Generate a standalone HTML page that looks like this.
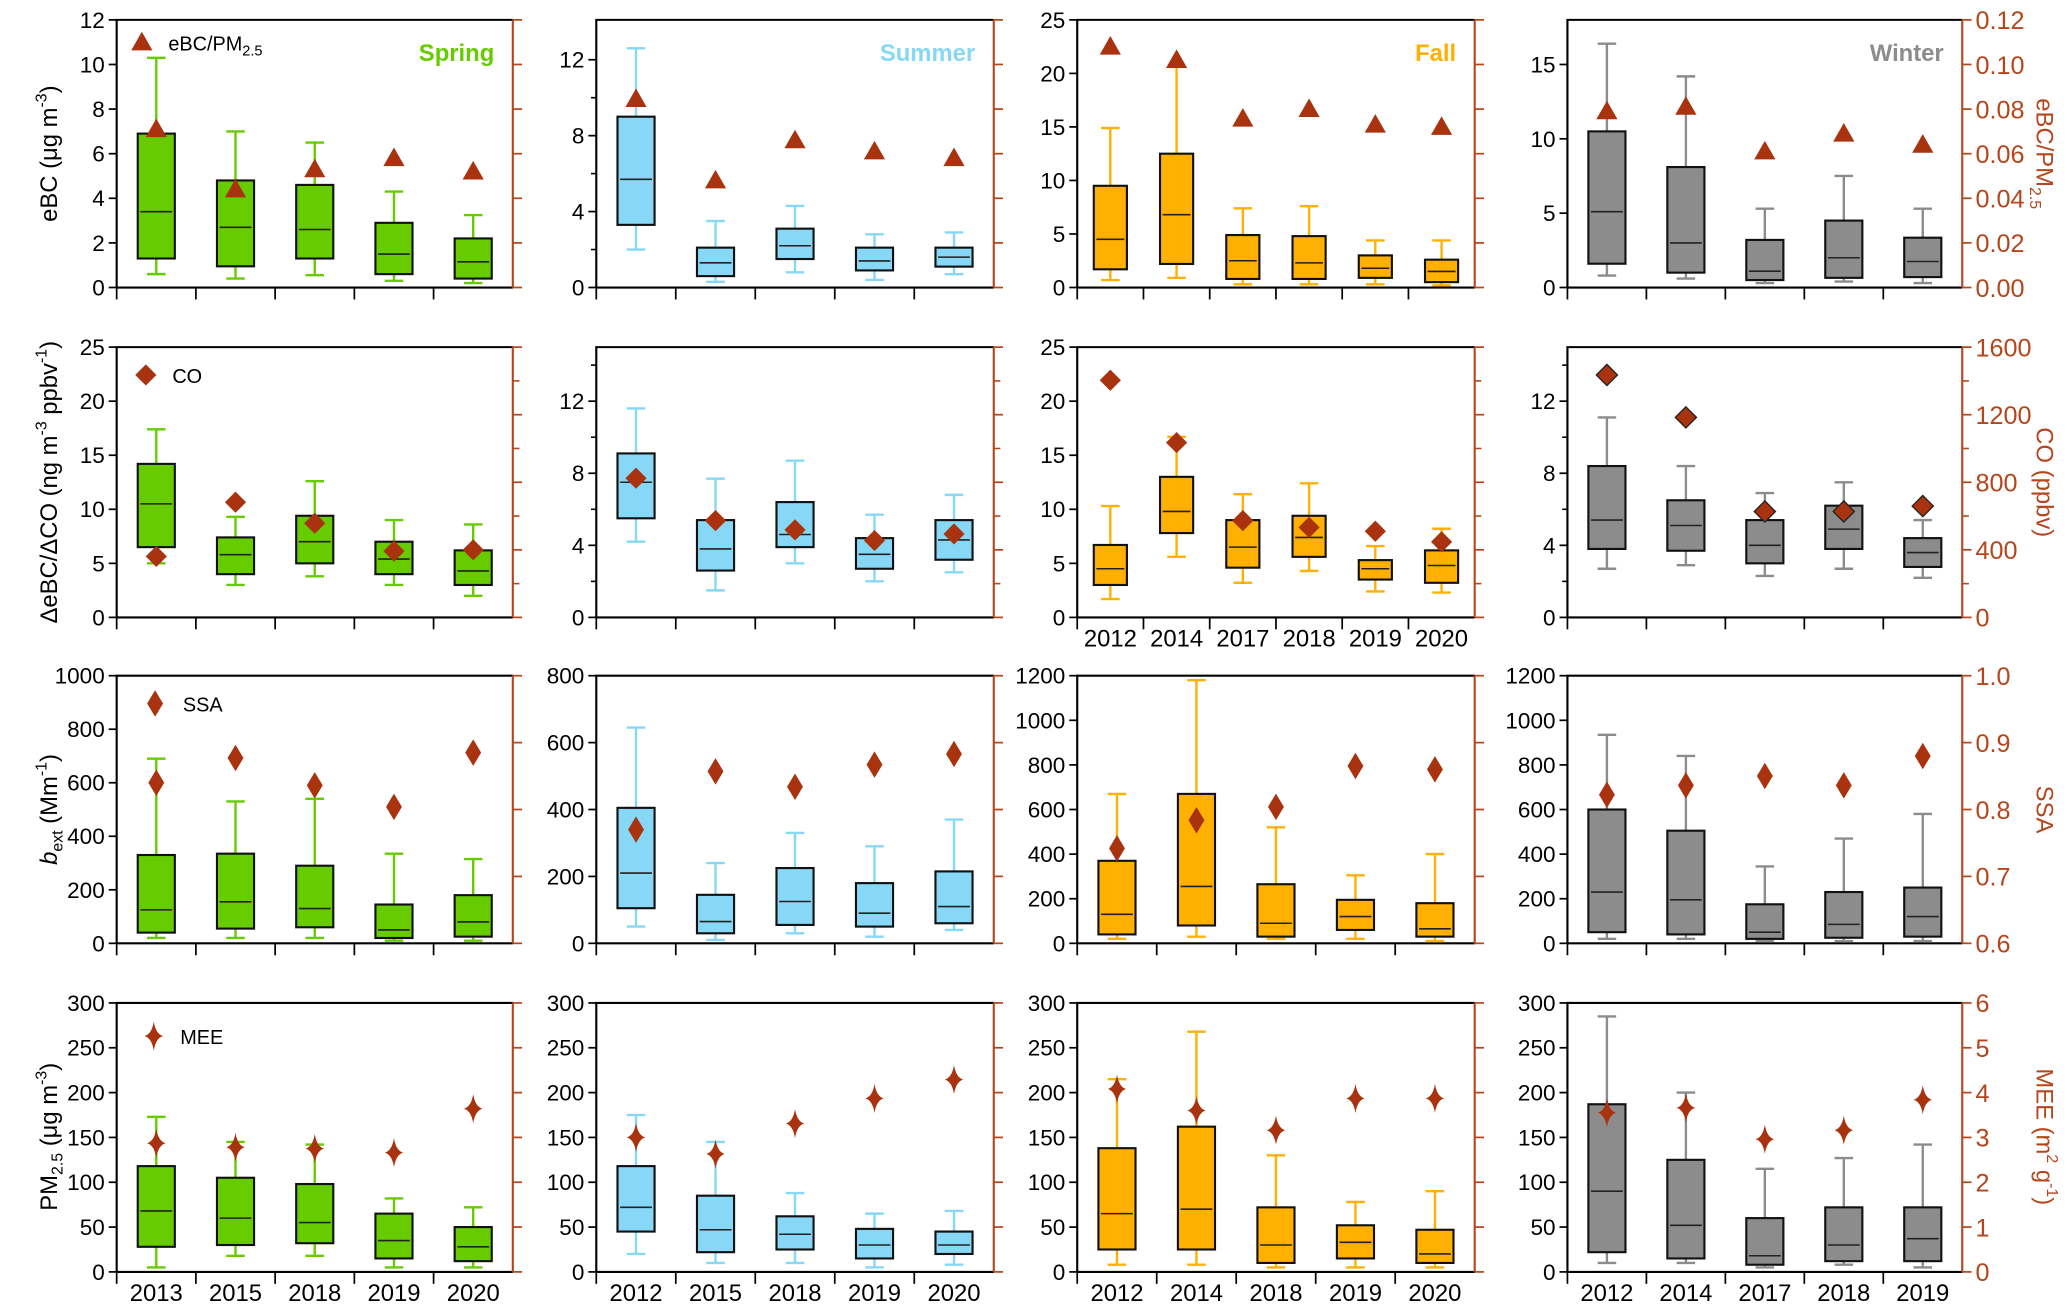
<!DOCTYPE html>
<html><head><meta charset="utf-8">
<style>
html,body{margin:0;padding:0;background:#fff;}
svg{display:block;font-family:"Liberation Sans",Arial,sans-serif;}
</style></head>
<body>
<svg id="fig" width="2067" height="1309" viewBox="0 0 1560 988" xmlns="http://www.w3.org/2000/svg"></svg>
<script>
// ---- categories ----
const springYears = ["2013","2015","2018","2019","2020"];
const summerYears = ["2012","2015","2018","2019","2020"];
const fallYearsCO = ["2012","2014","2017","2018","2019","2020"];
const fallYears = ["2012","2014","2018","2019","2020"];
const winterYears = ["2012","2014","2017","2018","2019"];
// ---- row 1: eBC [low, q1, median, q3, high]; eBC/PM2.5 ----
const springEbc = [[0.6,1.3,3.4,6.9,10.3],[0.4,0.95,2.7,4.8,7.0],[0.55,1.3,2.6,4.6,6.5],[0.3,0.6,1.5,2.9,4.3],[0.2,0.4,1.15,2.2,3.25]];
const springRatio = [0.071,0.044,0.053,0.058,0.052];
const summerEbc = [[2.0,3.3,5.7,9.0,12.6],[0.3,0.6,1.3,2.1,3.5],[0.8,1.5,2.2,3.1,4.3],[0.4,0.9,1.4,2.1,2.8],[0.7,1.1,1.6,2.1,2.9]];
const summerRatio = [0.0845,0.048,0.066,0.061,0.058];
const fallEbc = [[0.7,1.7,4.5,9.5,14.9],[0.9,2.2,6.8,12.5,20.6],[0.3,0.8,2.5,4.9,7.4],[0.3,0.8,2.3,4.8,7.6],[0.3,0.9,1.8,3.0,4.4],[0.2,0.5,1.5,2.6,4.4]];
const fallRatio = [0.108,0.102,0.0757,0.08,0.073,0.072];
const winterEbc = [[0.8,1.6,5.1,10.5,16.4],[0.6,1.0,3.0,8.1,14.2],[0.3,0.5,1.1,3.2,5.3],[0.4,0.65,2.0,4.5,7.5],[0.3,0.7,1.75,3.35,5.3]];
const winterRatio = [0.079,0.081,0.061,0.069,0.064];
// ---- row 2: dEBC/dCO; CO ----
const springDco = [[5,6.5,10.5,14.2,17.4],[3,4,5.8,7.4,9.3],[3.8,5,7,9.4,12.6],[3,4,5.4,7,9],[2,3,4.3,6.2,8.6]];
const springCO = [361,682,557,392,400];
const summerDco = [[4.2,5.5,7.5,9.1,11.6],[1.5,2.6,3.8,5.4,7.7],[3,3.9,4.6,6.4,8.7],[2,2.7,3.5,4.4,5.7],[2.5,3.2,4.3,5.4,6.8]];
const summerCO = [824,573,518,455,494];
const fallDco = [[1.7,3,4.5,6.7,10.3],[5.6,7.8,9.8,13,16.7],[3.2,4.6,6.5,9,11.4],[4.3,5.6,7.4,9.4,12.4],[2.4,3.5,4.5,5.3,6.6],[2.3,3.2,4.8,6.2,8.2]];
const fallCO = [1404,1035,573,533,510,447];
const winterDco = [[2.7,3.8,5.4,8.4,11.1],[2.9,3.7,5.1,6.5,8.4],[2.3,3,4,5.4,6.9],[2.7,3.8,4.9,6.2,7.5],[2.2,2.8,3.6,4.4,5.4]];
const winterCO = [1435,1184,627,627,659];
// ---- row 3: b_ext; SSA ----
const springBext = [[20,40,125,330,690],[20,55,155,335,530],[20,60,130,290,540],[10,20,50,145,335],[10,25,80,180,315]];
const springSSA = [0.84,0.877,0.836,0.804,0.885];
const summerBext = [[50,105,210,405,645],[10,30,65,145,240],[30,55,125,225,330],[20,50,90,180,290],[40,60,110,215,370]];
const summerSSA = [0.77,0.857,0.834,0.867,0.883];
const fallBext = [[20,40,130,370,670],[30,80,255,670,1180],[20,30,90,265,520],[20,60,120,195,305],[10,30,65,180,400]];
const fallSSA = [0.742,0.784,0.804,0.865,0.86];
const winterBext = [[20,50,230,600,935],[20,40,195,505,840],[10,20,50,175,345],[10,25,85,230,470],[10,30,120,250,580]];
const winterSSA = [0.822,0.836,0.85,0.836,0.88];
// ---- row 4: PM2.5; MEE ----
const springPm = [[5,28,68,118,173],[18,30,60,105,145],[18,32,55,98,142],[5,15,35,65,82],[5,12,28,50,72]];
const springMEE = [2.87,2.78,2.75,2.66,3.64];
const summerPm = [[20,45,72,118,175],[10,22,47,85,145],[10,25,42,62,88],[5,15,30,48,65],[8,20,30,45,68]];
const summerMEE = [3.0,2.63,3.31,3.87,4.29];
const fallPm = [[8,25,65,138,215],[8,25,70,162,268],[5,10,30,72,130],[5,15,33,52,78],[5,10,20,47,90]];
const fallMEE = [4.08,3.6,3.16,3.87,3.87];
const winterPm = [[10,22,90,187,285],[10,15,52,125,200],[5,8,18,60,115],[8,12,30,72,127],[5,12,37,72,142]];
const winterMEE = [3.55,3.66,2.96,3.16,3.84];
// ---- axis ticks ----
const ticksEbcSpring = [0,2,4,6,8,10,12];
const ticksEbcSummer = [0,4,8,12];
const ticks25 = [0,5,10,15,20,25];
const ticksEbcWinter = [0,5,10,15];
const ticksDcoSmall = [0,4,8,12];
const ticksBext1000 = [0,200,400,600,800,1000];
const ticksBext800 = [0,200,400,600,800];
const ticksBext1200 = [0,200,400,600,800,1000,1200];
const ticksPm = [0,50,100,150,200,250,300];
const ticksRatio = ["0.00","0.02","0.04","0.06","0.08","0.10","0.12"];
const ticksCO = [0,400,800,1200,1600];
const ticksSSA = ["0.6","0.7","0.8","0.9","1.0"];
const ticksMEE = [0,1,2,3,4,5,6];

const NS = "http://www.w3.org/2000/svg";
const svg = document.getElementById('fig');
const RED = "#a9330f", AX = "#b5461c";
const colL = [88,450,813,1183], colR = [387,750,1113,1481];
const rowT = [15,262,510,757], rowB = [217,466,712,960];
const colors = ["#66cc00","#87d7f7","#ffb000","#8c8c8c"];

function mk(tag, attrs, parent){
  const e = document.createElementNS(NS, tag);
  for (const k in attrs) e.setAttribute(k, attrs[k]);
  (parent||svg).appendChild(e);
  return e;
}
function txt(x,y,s,size,fill,anchor,parent){
  const t = mk('text',{x:x,y:y,'font-size':size,fill:fill||'#000','text-anchor':anchor||'middle'},parent);
  t.textContent = s;
  return t;
}

const rightSpecs = [
  {min:0,max:0.12,ticks:ticksRatio.map(Number),labels:ticksRatio,minor:[]},
  {min:0,max:1600,ticks:ticksCO,labels:ticksCO.map(String),minor:[200,600,1000,1400]},
  {min:0.6,max:1.0,ticks:ticksSSA.map(Number),labels:ticksSSA,minor:[]},
  {min:0,max:6,ticks:ticksMEE,labels:ticksMEE.map(String),minor:[]}
];
const leftSpecs = [
  [{max:12,ticks:ticksEbcSpring,minor:[]},{max:14.1,ticks:ticksEbcSummer,minor:[2,6,10]},{max:25,ticks:ticks25,minor:[]},{max:18,ticks:ticksEbcWinter,minor:[]}],
  [{max:25,ticks:ticks25,minor:[]},{max:15,ticks:ticksDcoSmall,minor:[2,6,10,14]},{max:25,ticks:ticks25,minor:[]},{max:15,ticks:ticksDcoSmall,minor:[2,6,10,14]}],
  [{max:1000,ticks:ticksBext1000,minor:[]},{max:800,ticks:ticksBext800,minor:[]},{max:1200,ticks:ticksBext1200,minor:[]},{max:1200,ticks:ticksBext1200,minor:[]}],
  [{max:300,ticks:ticksPm,minor:[]},{max:300,ticks:ticksPm,minor:[]},{max:300,ticks:ticksPm,minor:[]},{max:300,ticks:ticksPm,minor:[]}]
];
const boxData = [
  [springEbc,summerEbc,fallEbc,winterEbc],
  [springDco,summerDco,fallDco,winterDco],
  [springBext,summerBext,fallBext,winterBext],
  [springPm,summerPm,fallPm,winterPm]
];
const markData = [
  [springRatio,summerRatio,fallRatio,winterRatio],
  [springCO,summerCO,fallCO,winterCO],
  [springSSA,summerSSA,fallSSA,winterSSA],
  [springMEE,summerMEE,fallMEE,winterMEE]
];
const catData = [
  [springYears,summerYears,fallYearsCO,winterYears],
  [springYears,summerYears,fallYearsCO,winterYears],
  [springYears,summerYears,fallYears,winterYears],
  [springYears,summerYears,fallYears,winterYears]
];
const rowNames = ["ebc","debc-dco","bext","pm25"];
const seasonNames = ["spring","summer","fall","winter"];

function marker(kind,x,y,g,withStroke){
  let m;
  if (kind===0) m = mk('polygon',{points:`${x},${y-8} ${x-8},${y+6} ${x+8},${y+6}`,fill:RED},g);
  else if (kind===1) m = mk('polygon',{points:`${x},${y-8} ${x+8},${y} ${x},${y+8} ${x-8},${y}`,fill:RED,stroke:withStroke?'#222':'none','stroke-width':1},g);
  else if (kind===2) m = mk('polygon',{points:`${x},${y-10} ${x+6},${y} ${x},${y+10} ${x-6},${y}`,fill:RED},g);
  else m = mk('path',{d:`M${x},${y-11} Q${x+1.5},${y-1.5} ${x+7},${y} Q${x+1.5},${y+1.5} ${x},${y+11} Q${x-1.5},${y+1.5} ${x-7},${y} Q${x-1.5},${y-1.5} ${x},${y-11}Z`,fill:RED},g);
  return m;
}

for (let r=0;r<4;r++){
  for (let c=0;c<4;c++){
    const L=colL[c],R=colR[c],T=rowT[r],B=rowB[r];
    const g = mk('g',{});
    
    
    const ls = leftSpecs[r][c], rs = rightSpecs[r];
    const yL = v => B - v/ls.max*(B-T);
    const yR = v => B - (v-rs.min)/(rs.max-rs.min)*(B-T);
    const cats = catData[r][c];
    const n = cats.length, cw = (R-L)/n;
    const xC = i => L + cw*(i+0.5);
    // frame
    const fr = mk('path',{d:`M${L},${B} L${L},${T} L${R},${T}`,stroke:'#000','stroke-width':1.6,fill:'none'},g);
     
    const xa = mk('line',{x1:L,y1:B,x2:R,y2:B,stroke:'#000','stroke-width':1.6},g);
     
    const ra = mk('line',{x1:R,y1:T,x2:R,y2:B,stroke:AX,'stroke-width':1.6},g);
     
    // left ticks
    ls.ticks.forEach(v=>{
      const y=yL(v);
      mk('line',{x1:L-6,y1:y,x2:L,y2:y,stroke:'#000','stroke-width':1.3},g);
      const t = txt(L-9,y+6,String(v),17,'#000','end',g);
       
    });
    ls.minor.forEach(v=>{ if(v<=ls.max){const y=yL(v); mk('line',{x1:L-4,y1:y,x2:L,y2:y,stroke:'#000','stroke-width':1.2},g);} });
    // right ticks
    rs.ticks.forEach((v,i)=>{
      const y=yR(v);
      mk('line',{x1:R,y1:y,x2:R+7,y2:y,stroke:AX,'stroke-width':1.3},g);
      if (c===3){
        const t = txt(R+10,y+7,rs.labels[i],19,AX,'start',g);
         
      }
    });
    rs.minor.forEach(v=>{const y=yR(v); mk('line',{x1:R,y1:y,x2:R+5,y2:y,stroke:AX,'stroke-width':1.2},g);});
    // x category ticks
    for (let i=0;i<n;i++){
      const x=L+cw*i;
      mk('line',{x1:x,y1:B,x2:x,y2:B+9,stroke:'#000','stroke-width':1.3},g);
      if (r===3 || (r===1 && c===2)){
        const t = txt(xC(i),B+22,cats[i],18,'#000','middle',g);
         
      }
    }
    // boxes
    const bw = Math.min(28, cw*0.5);
    boxData[r][c].forEach((s,i)=>{
      const x=xC(i);
      const bg = mk('g',{},g);
      
      
      mk('line',{x1:x,y1:yL(s[0]),x2:x,y2:yL(s[1]),stroke:colors[c],'stroke-width':1.8},bg);
      mk('line',{x1:x,y1:yL(s[3]),x2:x,y2:yL(s[4]),stroke:colors[c],'stroke-width':1.8},bg);
      mk('line',{x1:x-7,y1:yL(s[0]),x2:x+7,y2:yL(s[0]),stroke:colors[c],'stroke-width':1.8},bg);
      mk('line',{x1:x-7,y1:yL(s[4]),x2:x+7,y2:yL(s[4]),stroke:colors[c],'stroke-width':1.8},bg);
      mk('rect',{x:x-bw/2,y:yL(s[3]),width:bw,height:yL(s[1])-yL(s[3]),fill:colors[c],stroke:'#111','stroke-width':1.6},bg);
      mk('line',{x1:x-bw/2+2,y1:yL(s[2]),x2:x+bw/2-2,y2:yL(s[2]),stroke:'#222','stroke-width':1.2},bg);
    });
    // markers
    markData[r][c].forEach((v,i)=>{
      const m = marker(r,xC(i),yR(v),g,r===1&&c===3);
      
      
    });
  }
}

// season labels
const seasonLbl = ["Spring","Summer","Fall","Winter"];
for (let c=0;c<4;c++){
  const t = txt(colR[c]-14,46,seasonLbl[c],18,colors[c],'end');
  t.setAttribute('font-weight','bold');
  
  
}
// legends
const legTxt = [["eBC/PM",[127,38]],["CO",[130,289]],["SSA",[138,537]],["MEE",[136,788]]];
const legPos = [[107,32],[110,283],[117,531],[116,782]];
for (let r=0;r<4;r++){
  const lg = mk('g',{});
  
  
  marker(r,legPos[r][0],legPos[r][1],lg,false);
  const t = txt(legTxt[r][1][0],legTxt[r][1][1],legTxt[r][0],15,'#000','start',lg);
  if (r===0){ const s=mk('tspan',{'font-size':11,dy:4},t); s.textContent='2.5'; }
}
// left axis titles
function vtitle(x,y,name,color,build,rot){
  const t = mk('text',{transform:`translate(${x},${y}) rotate(${rot})`,'font-size':18,fill:color,'text-anchor':'middle'});
  
  
  build(t);
}
function part(t,s,opt){const e=mk('tspan',opt||{},t); e.textContent=s; return e;}
vtitle(43,116,'y-axis-title-ebc','#000',t=>{part(t,'eBC (μg m');part(t,'-3',{'font-size':12,dy:-8});part(t,')',{dy:8});},-90);
vtitle(43,364,'y-axis-title-debc-dco','#000',t=>{part(t,'ΔeBC/ΔCO (ng m');part(t,'-3',{'font-size':12,dy:-8});part(t,' ppbv',{dy:8});part(t,'-1',{'font-size':12,dy:-8});part(t,')',{dy:8});},-90);
vtitle(43,611,'y-axis-title-bext','#000',t=>{part(t,'b',{'font-style':'italic'});part(t,'ext',{'font-size':12,dy:4});part(t,' (Mm',{dy:-4});part(t,'-1',{'font-size':12,dy:-8});part(t,')',{dy:8});},-90);
vtitle(43,858,'y-axis-title-pm25','#000',t=>{part(t,'PM');part(t,'2.5',{'font-size':12,dy:4});part(t,' (μg m',{dy:-4});part(t,'-3',{'font-size':12,dy:-8});part(t,')',{dy:8});},-90);
// right axis titles
vtitle(1537,116,'right-axis-title-ebc-pm25',AX,t=>{part(t,'eBC/PM');part(t,'2.5',{'font-size':12,dy:5});},90);
vtitle(1537,364,'right-axis-title-co',AX,t=>{part(t,'CO (ppbv)');},90);
vtitle(1537,611,'right-axis-title-ssa',AX,t=>{part(t,'SSA');},90);
vtitle(1537,858,'right-axis-title-mee',AX,t=>{part(t,'MEE (m');part(t,'2',{'font-size':12,dy:-8});part(t,' g',{dy:8});part(t,'-1',{'font-size':12,dy:-8});part(t,')',{dy:8});},90);
</script>
</body></html>
